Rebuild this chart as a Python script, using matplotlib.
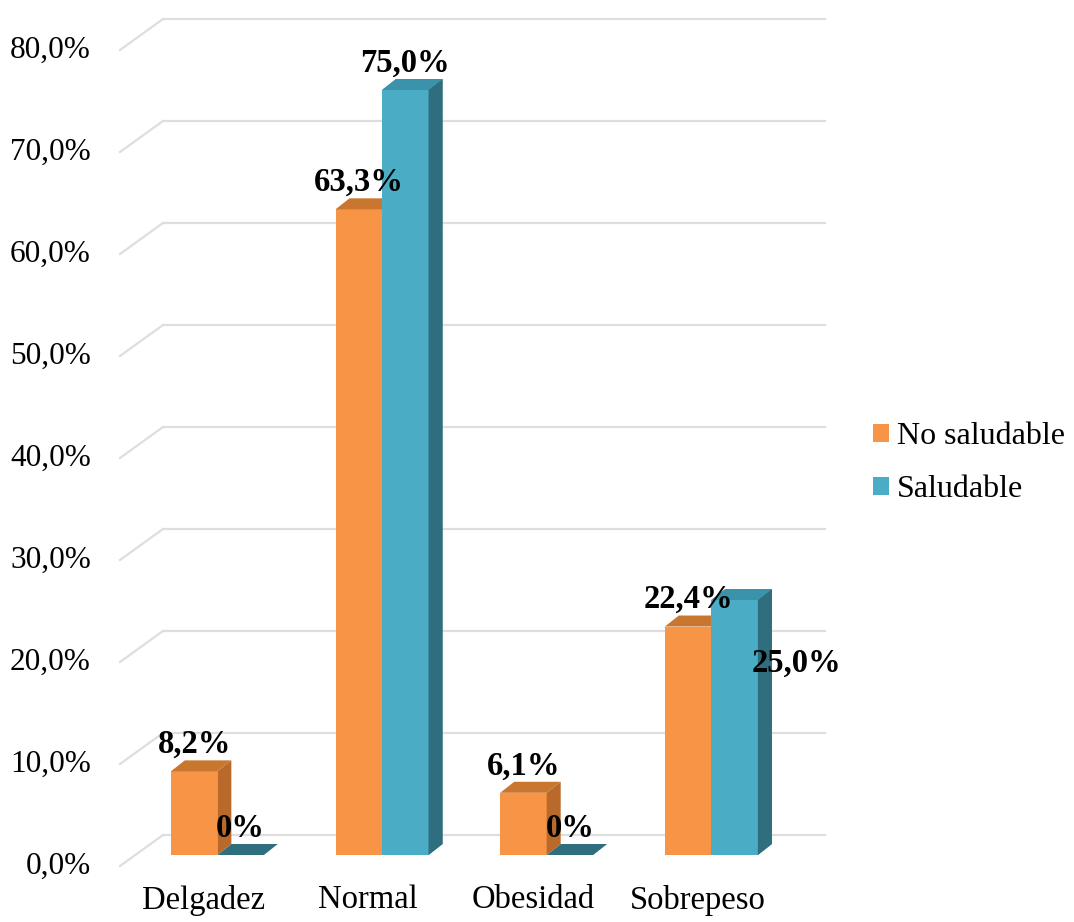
import matplotlib.pyplot as plt
from matplotlib.patches import Polygon, Patch

categorias = ['Delgadez', 'Normal', 'Obesidad', 'Sobrepeso']
no_saludable = [8.2, 63.3, 6.1, 22.4]
saludable = [0.0, 75.0, 0.0, 25.0]
etiquetas_no = ['8,2%', '63,3%', '6,1%', '22,4%']
etiquetas_si = ['0%', '75,0%', '0%', '25,0%']
ticks_y = [0, 10, 20, 30, 40, 50, 60, 70, 80]
ticks_txt = ['0,0%', '10,0%', '20,0%', '30,0%', '40,0%', '50,0%', '60,0%', '70,0%', '80,0%']
series = ['No saludable', 'Saludable']

# colores estilo Excel (frente, techo, lado)
naranja = ('#F79446', '#C9762F', '#B9692A')
azul = ('#4BACC6', '#3A92AB', '#2F6E7E')
gris = '#DEDEDE'

plt.rcParams['font.family'] = ['Liberation Serif', 'DejaVu Serif']

fig = plt.figure(figsize=(10.74, 9.22), dpi=100)
ax = fig.add_axes([135 / 1074, 67 / 922, 662 / 1074, 816 / 922])
ax.set_xlim(-0.5, 3.52)
ax.set_ylim(0, 80)
ax.axis('off')

# pixeles por unidad de datos
PX = 662 / 4.02
PY = 816 / 80


def dx(p):
    return p / PX


def dy(p):
    return p / PY


# pared del fondo y lineas hacia el frente
x0, x1 = ax.get_xlim()
for v, t in zip(ticks_y, ticks_txt):
    yb = v + dy(20)
    yf = v - dy(11)
    ax.plot([x0 + dx(28), x1 + dx(28)], [yb, yb], color=gris, lw=1.6,
            clip_on=False, zorder=1)
    ax.plot([x0 - dx(15), x0 + dx(28)], [yf, yb], color=gris, lw=1.6,
            clip_on=False, zorder=1)
    ax.text(x0 - dx(15) - dx(29), yf, t, ha='right', va='center',
            fontsize=22.5, clip_on=False)

w = 46.5 / PX
px3, py3 = dx(14), dy(11)


def barra3d(xc, v, cols):
    xl, xr = xc - w / 2, xc + w / 2
    z = 2 if v == 0 else 4
    if v > 0:
        ax.bar(xc, v, width=w, color=cols[0], zorder=z)
        ax.add_patch(Polygon([(xr, 0), (xr, v), (xr + px3, v + py3), (xr + px3, py3)],
                             closed=True, facecolor=cols[2], edgecolor='none', zorder=z))
    ax.add_patch(Polygon([(xl, v), (xr, v), (xr + px3, v + py3), (xl + px3, v + py3)],
                         closed=True, facecolor=cols[1] if v > 0 else cols[2],
                         edgecolor='none', zorder=z))


for i in range(len(categorias)):
    barra3d(i + w / 2, saludable[i], azul)
    barra3d(i - w / 2, no_saludable[i], naranja)
# el naranja va detras del azul cuando el azul tiene altura
for i in range(len(categorias)):
    if saludable[i] > 0:
        barra3d(i + w / 2, saludable[i], azul)

for i in range(len(categorias)):
    ax.annotate(etiquetas_no[i], (i - w / 2, no_saludable[i]), xytext=(0, 27),
                textcoords='offset pixels', ha='center', va='center',
                fontsize=23.5, fontweight='bold', zorder=6)
    off = (0, 27)
    if categorias[i] == 'Sobrepeso':
        off = (62, -63)
    ax.annotate(etiquetas_si[i], (i + w / 2, saludable[i]), xytext=off,
                textcoords='offset pixels', ha='center', va='center',
                fontsize=23.5, fontweight='bold', zorder=6)
    ax.text(i - dx(14), -dy(45), categorias[i], ha='center', va='center',
            fontsize=23.5, clip_on=False)

handles = [Patch(facecolor=naranja[0]), Patch(facecolor=azul[0])]
fig.legend(handles, series, loc='center left', bbox_to_anchor=(873 / 1074, 459 / 922),
           frameon=False, fontsize=23, handlelength=0.5, handleheight=0.5,
           handletextpad=0.25, labelspacing=0.75, borderpad=0, borderaxespad=0)

fig.savefig('out.png', dpi=100, facecolor='white')
